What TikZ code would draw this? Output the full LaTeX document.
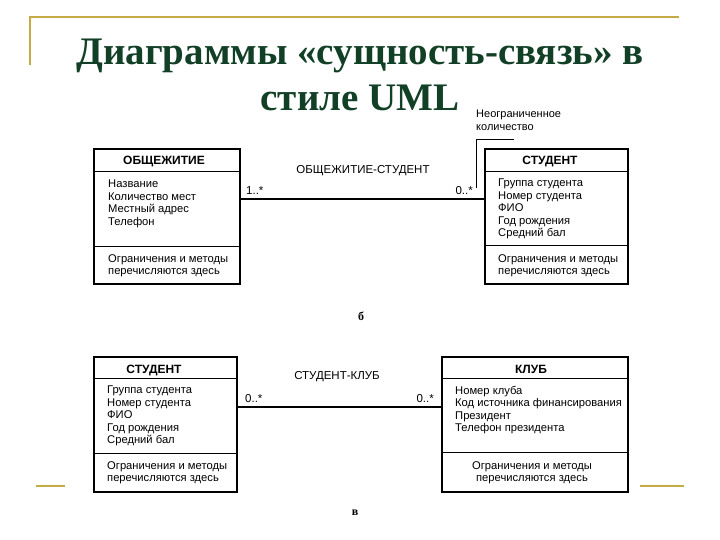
\documentclass[tikz,border=0pt]{standalone}
\usepackage{fontspec}
\setmainfont{Liberation Serif}
\setsansfont{Liberation Sans}
\usetikzlibrary{positioning}
\definecolor{gold}{RGB}{198,170,70}
\definecolor{titlegreen}{RGB}{18,64,38}

\begin{document}
\begin{tikzpicture}[x=1pt, y=-1pt,
    classbox/.style={draw, line width=1.6pt, inner sep=0pt, minimum height=135pt},
    sepline/.style={line width=0.8pt},
    assoc/.style={line width=1.6pt},
    hdr/.style={font=\sffamily\bfseries\fontsize{12}{14}\selectfont, anchor=base},
    attr/.style={font=\sffamily\fontsize{11.2}{12.5}\selectfont, align=left, inner sep=0pt, anchor=north west},
    lbl/.style={font=\sffamily\fontsize{11.5}{12.5}\selectfont, inner sep=0pt},
    figletter/.style={font=\bfseries\fontsize{12}{14}\selectfont},
    deco/.style={gold, line width=1.6pt},
    title/.style={font=\bfseries\fontsize{39}{47}\selectfont, text=titlegreen, anchor=base}]

    \fill[white] (0,0) rectangle (720,540);
    \useasboundingbox (0,0) rectangle (720,540);

    % Title and gold frame lines
    \draw[deco] (30,65) -- (30,17) -- (679,17);
    \draw[deco] (36,486) -- (65,486);
    \draw[deco] (640,486) -- (684,486);
    \node[title] (title1) at (360,65) {Диаграммы «сущность-связь» в};
    \node[title] (title2) at (360,111) {стиле UML};

    % Classes, picture b
    \node[classbox, minimum width=146pt] (obsch) at (167,216.5) {};
    \node[classbox, minimum width=143pt] (studA) at (556.5,216.5) {};
    \draw[sepline] ([yshift=-23pt]obsch.north west) -- ([yshift=-23pt]obsch.north east);
    \draw[sepline] ([yshift=-98pt]obsch.north west) -- ([yshift=-98pt]obsch.north east);
    \draw[sepline] ([yshift=-23pt]studA.north west) -- ([yshift=-23pt]studA.north east);
    \draw[sepline] ([yshift=-97pt]studA.north west) -- ([yshift=-97pt]studA.north east);

    \node[hdr] (obschH) at (164,164.5) {ОБЩЕЖИТИЕ};
    \node[attr] (obschA) at (108,180) {Название\\Количество мест\\Местный адрес\\Телефон};
    \node[attr] (obschM) at (108,254) {Ограничения и методы\\перечисляются здесь};
    \node[hdr] (studAH) at (550,164.5) {СТУДЕНТ};
    \node[attr] (studAA) at (498,179) {Группа студента\\Номер студента\\ФИО\\Год рождения\\Средний бал};
    \node[attr] (studAM) at (498,254) {Ограничения и методы\\перечисляются здесь};

    % Association b
    \coordinate (rowB) at (0,199);
    \draw[assoc] (obsch.east |- rowB) -- (studA.west |- rowB);
    \node[lbl] (assocB) at (363,171) {ОБЩЕЖИТИЕ-СТУДЕНТ};
    \node[lbl, anchor=base west] (multB1) at (246,195) {1..*};
    \node[lbl, anchor=base east] (multB2) at (473,195) {0..*};

    % Note on unlimited count
    \node[lbl, font=\sffamily\fontsize{11}{13}\selectfont, align=left, anchor=north west] (note) at (476,110) {Неограниченное\\количество};
    \coordinate (noteTip) at (476,188);
    \coordinate (noteEnd) at (514,139);
    \draw[sepline] (noteTip) |- (noteEnd);

    \node[figletter] (letterB) at (361,316) {б};

    % Classes, picture v
    \node[classbox, minimum width=143pt] (studB) at (165.5,424.5) {};
    \node[classbox, minimum width=186pt] (klub) at (535,424.5) {};
    \draw[sepline] ([yshift=-22pt]studB.north west) -- ([yshift=-22pt]studB.north east);
    \draw[sepline] ([yshift=-97pt]studB.north west) -- ([yshift=-97pt]studB.north east);
    \draw[sepline] ([yshift=-22pt]klub.north west) -- ([yshift=-22pt]klub.north east);
    \draw[sepline] ([yshift=-96pt]klub.north west) -- ([yshift=-96pt]klub.north east);

    \node[hdr] (studBH) at (154,373.5) {СТУДЕНТ};
    \node[attr] (studBA) at (107,386) {Группа студента\\Номер студента\\ФИО\\Год рождения\\Средний бал};
    \node[attr] (studBM) at (107,461) {Ограничения и методы\\перечисляются здесь};
    \node[hdr] (klubH) at (531,373.5) {КЛУБ};
    \node[attr] (klubA) at (455,386) {Номер клуба\\Код источника финансирования\\Президент\\Телефон президента};
    \node[attr, align=center, anchor=north] (klubM) at (532,461) {Ограничения и методы\\перечисляются здесь};

    % Association v
    \coordinate (rowV) at (0,407);
    \draw[assoc] (studB.east |- rowV) -- (klub.west |- rowV);
    \node[lbl] (assocV) at (337,377) {СТУДЕНТ-КЛУБ};
    \node[lbl, anchor=base west] (multV1) at (245,402) {0..*};
    \node[lbl, anchor=base east] (multV2) at (434,402) {0..*};

    \node[figletter] (letterV) at (355,513) {в};
\end{tikzpicture}
\end{document}
